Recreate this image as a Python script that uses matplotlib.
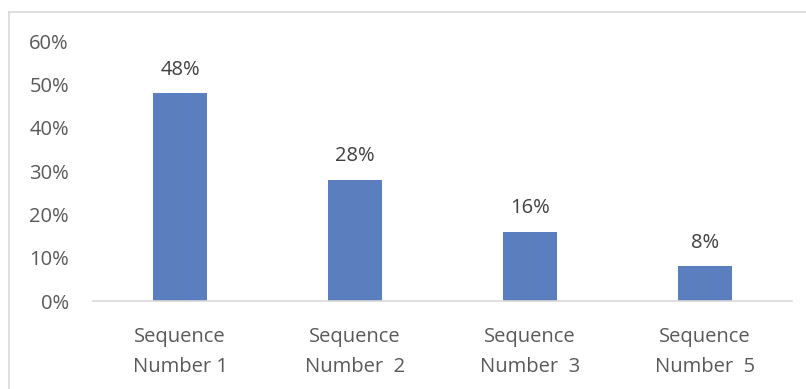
import matplotlib.pyplot as plt
from matplotlib.lines import Line2D
import numpy as np

categories = ["Sequence\nNumber 1", "Sequence\nNumber  2", "Sequence\nNumber  3", "Sequence\nNumber  5"]
shares = [0.48, 0.28, 0.16, 0.08]
value_labels = ["48%", "28%", "16%", "8%"]
yticks = [0, 0.1, 0.2, 0.3, 0.4, 0.5, 0.6]

plt.rcParams['font.family'] = ['Open Sans', 'DejaVu Sans']
text_color = '#595959'

fig = plt.figure(figsize=(8.06, 3.89), dpi=100)
ax = fig.add_axes([0.1148, 0.2262, 0.8684, 0.6684])

x = np.arange(len(categories))
bars = ax.bar(x, shares, width=0.31, color='#5A7EBE')

for b, lab in zip(bars, value_labels):
    ax.annotate(lab, (b.get_x() + b.get_width() / 2, b.get_height()),
                xytext=(0, 9.5), textcoords='offset points',
                ha='center', va='bottom', fontsize=14.5, color='#404040')

ax.set_xlim(-0.5, len(categories) - 0.5)
ax.set_ylim(0, 0.6)
ax.set_yticks(yticks)
ax.set_yticklabels([f"{int(round(v * 100))}%" for v in yticks])
ax.set_xticks(x)
ax.set_xticklabels(categories, linespacing=1.7)
ax.tick_params(axis='y', length=0, pad=17, labelsize=14.5, labelcolor=text_color)
ax.tick_params(axis='x', length=0, pad=18.5, labelsize=14.5, labelcolor=text_color)

for s in ['top', 'right', 'left']:
    ax.spines[s].set_visible(False)
ax.spines['bottom'].set_color('#d9d9d9')
ax.spines['bottom'].set_linewidth(1.2)

# chart frame (top and left edges visible)
fig.add_artist(Line2D([9 / 806, 1], [1 - 12 / 389, 1 - 12 / 389], transform=fig.transFigure, color='#d9d9d9', lw=1.2))
fig.add_artist(Line2D([9 / 806, 9 / 806], [0, 1 - 12 / 389], transform=fig.transFigure, color='#d9d9d9', lw=1.2))

fig.savefig("out.png", dpi=100)
